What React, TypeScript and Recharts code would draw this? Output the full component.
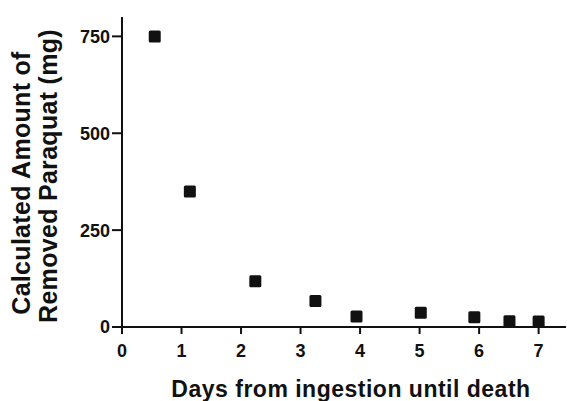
import { ScatterChart, Scatter, XAxis, YAxis } from "recharts"

// Days from ingestion until death vs calculated paraquat removed (mg)
const days = [0.55, 1.14, 2.24, 3.25, 3.94, 5.02, 5.92, 6.51, 7.0]
const removedMg = [750, 350, 118, 67, 27, 37, 25, 15, 14]
const xTicks = [0, 1, 2, 3, 4, 5, 6, 7]
const yTicks = [0, 250, 500, 750]
const yTitleLines = ["Calculated Amount of", "Removed Paraquat (mg)"]
const xTitle = "Days from ingestion until death"

const FONT = '"Liberation Sans", Arial, Helvetica, sans-serif'
const INK = "#111"

const points = days.map((d, i) => ({ day: d, mg: removedMg[i] }))

const SquareDot = (props: any) => {
  const { cx, cy } = props
  if (cx == null || cy == null) return null
  return <rect x={cx - 6} y={cy - 6} width={12} height={12} rx={1.5} fill={INK} />
}

const XTitle = (props: any) => {
  const vb = props.viewBox || {}
  return (
    <text
      x={vb.x + vb.width / 2 + 7}
      y={397}
      textAnchor="middle"
      fill={INK}
      fontFamily={FONT}
      fontWeight={700}
      fontSize={23}
      letterSpacing={0.5}
    >
      {xTitle}
    </text>
  )
}

const YTitle = (props: any) => {
  const vb = props.viewBox || {}
  const cy = vb.y + vb.height / 2
  return (
    <g>
      <text
        transform={`translate(30, ${cy + 11}) rotate(-90)`}
        textAnchor="middle"
        fill={INK}
        fontFamily={FONT}
        fontWeight={700}
        fontSize={25}
        letterSpacing={0.3}
      >
        {yTitleLines[0]}
      </text>
      <text
        transform={`translate(57, ${cy + 4}) rotate(-90)`}
        textAnchor="middle"
        fill={INK}
        fontFamily={FONT}
        fontWeight={700}
        fontSize={25}
        letterSpacing={0.3}
      >
        {yTitleLines[1]}
      </text>
    </g>
  )
}

export default function App() {
  const tickStyle = { fill: INK, fontSize: 18, fontWeight: 700, fontFamily: FONT }
  const lineStyle = { stroke: INK, strokeWidth: 2 }

  return (
    <div style={{ position: "absolute", left: 0, top: 0, background: "#fff" }}>
      <ScatterChart width={567} height={401} margin={{ top: 17, right: 1, bottom: 0, left: 0 }}>
        <XAxis
          type="number"
          dataKey="day"
          domain={[0, 7.46]}
          ticks={xTicks}
          height={74}
          tick={tickStyle}
          tickSize={7}
          tickMargin={10}
          axisLine={lineStyle}
          tickLine={lineStyle}
          label={<XTitle />}
        />
        <YAxis
          type="number"
          dataKey="mg"
          domain={[0, 800]}
          ticks={yTicks}
          width={122}
          tick={tickStyle}
          tickSize={10}
          tickMargin={2}
          axisLine={lineStyle}
          tickLine={lineStyle}
          label={<YTitle />}
        />
        <Scatter data={points} fill={INK} shape={SquareDot} isAnimationActive={false} />
      </ScatterChart>
    </div>
  )
}
